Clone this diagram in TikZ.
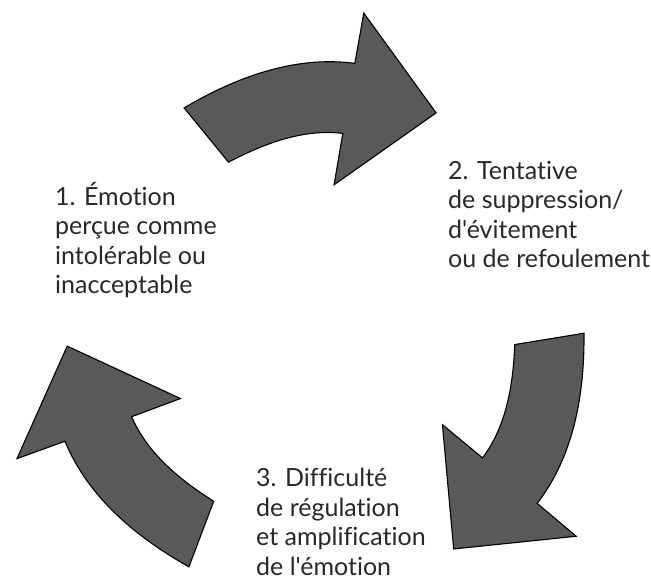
\documentclass[tikz,border=0pt]{standalone}
\usepackage{fontspec}
\setmainfont{Lato}[Ligatures={TeXOff,CommonOff}]
\usetikzlibrary{positioning}
\definecolor{arrowgray}{RGB}{89,89,89}
\definecolor{textgray}{RGB}{40,40,40}
\tikzset{
  cyclearrow/.style={draw=black, fill=arrowgray, line width=1.1pt, line join=miter},
  etape/.style={anchor=base west, align=left, inner sep=0pt, text=textgray,
    font=\fontsize{25}{29.5}\selectfont}
}

\begin{document}
\begin{tikzpicture}[x=1pt,y=1pt]
\useasboundingbox (0,0) rectangle (651,582);
\foreach \a in {0,-120,-240}
  \draw[cyclearrow, shift={(319,246)}, rotate=\a]
  (120.6:265) -- (117.5:196)
  .. controls (106.2:199.9) and (94.6:208.1) .. (83.3:204)
  -- (84.3:152) -- (62.3:252) -- (82.1:326) -- (82.5:275)
  .. controls (95.1:281.8) and (108.0:271.5) .. (120.6:265) -- cycle;
\node[etape] (emotion) at (55,288) {1. Émotion\\perçue comme\\intolérable ou\\inacceptable};
\node[etape] (suppression) at (448,314) {2. Tentative\\de suppression/\\d'évitement\\ou de refoulement};
\node[etape] (regulation) at (256,7) {3. Difficulté\\de régulation\\et amplification\\de l'émotion};
\end{tikzpicture}
\end{document}
